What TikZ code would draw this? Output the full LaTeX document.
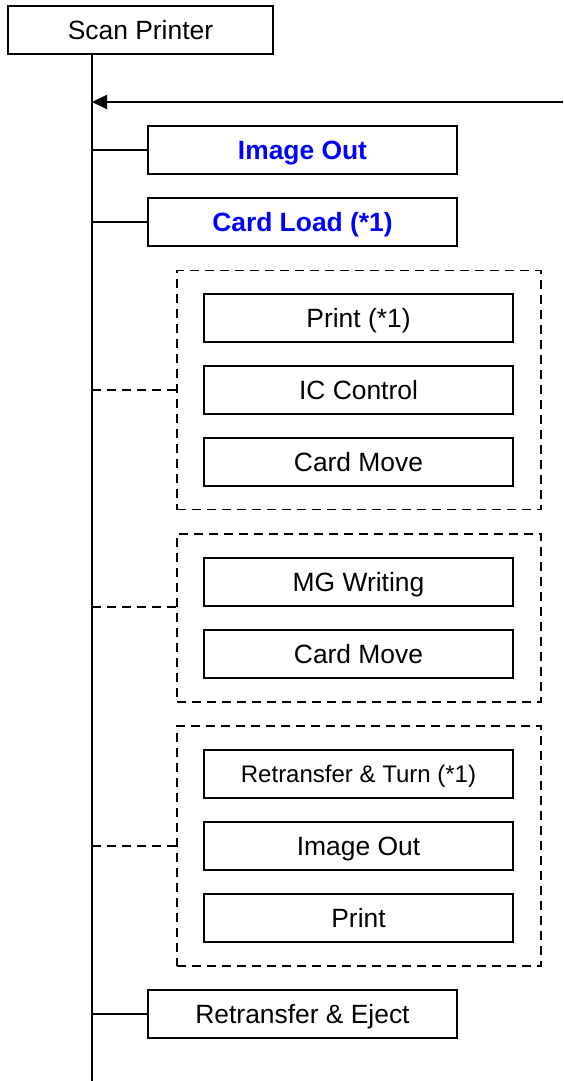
\documentclass[tikz,border=0pt]{standalone}
\usepackage{fontspec}
\setmainfont{Liberation Sans}
\usetikzlibrary{arrows.meta}
\tikzset{
	box/.style={draw,line width=1.8pt,minimum width=309pt,minimum height=48pt,inner sep=0pt,
		text height=19pt,text depth=0pt,font=\fontsize{26.4}{30}\selectfont},
	hotbox/.style={box,text=blue,font=\fontsize{26.4}{30}\selectfont\bfseries},
	groupbox/.style={draw,line width=1.8pt,dash pattern=on 9pt off 6pt,minimum width=364pt,inner sep=0pt},
	link/.style={line width=1.8pt},
	dashlink/.style={line width=1.8pt,dash pattern=on 9pt off 6pt}
}
\begin{document}
\begin{tikzpicture}[x=1pt,y=-1pt]
	\useasboundingbox (0,0) rectangle (563,1081);
	\node[box,minimum width=265pt] (scan) at (140.5,30) {Scan Printer};
	\coordinate (trunktop) at (92,54);
	\coordinate (trunkend) at (92,1081);
	\draw[link] (trunktop) -- (trunkend);
	% loop back
	\coordinate (loopin) at (563,102);
	\draw[link,-{Triangle[length=15pt,width=14pt]}] (loopin) -- (loopin -| trunktop);
	% single steps
	\node[hotbox] (imgout) at (302.5,150) {Image Out};
	\node[hotbox] (cardload) at (302.5,222) {Card Load (*1)};
	\draw[link] (imgout.west -| trunktop) -- (imgout.west);
	\draw[link] (cardload.west -| trunktop) -- (cardload.west);
	% first group
	\node[groupbox,minimum height=239pt] (grpA) at (359,390) {};
	\node[box] (printA) at (358.5,318) {Print (*1)};
	\node[box] (icctl) at (358.5,390) {IC Control};
	\node[box] (moveA) at (358.5,462) {Card Move};
	\draw[dashlink] (grpA.west -| trunktop) -- (grpA.west);
	% second group
	\node[groupbox,minimum height=168pt] (grpB) at (359,618) {};
	\node[box] (mgw) at (358.5,582) {MG Writing};
	\node[box] (moveB) at (358.5,654) {Card Move};
	\draw[dashlink] (mgw.south -| trunktop) -- (mgw.south -| grpB.west);
	% third group
	\node[groupbox,minimum height=240pt] (grpC) at (359,846) {};
	\node[box,text height=17.3pt,font=\fontsize{24}{28}\selectfont] (turn) at (358.5,774) {Retransfer \& Turn (*1)};
	\node[box] (imgoutC) at (358.5,846) {Image Out};
	\node[box] (printC) at (358.5,918) {Print};
	\draw[dashlink] (grpC.west -| trunktop) -- (grpC.west);
	% last step
	\node[box] (eject) at (302.5,1014) {Retransfer \& Eject};
	\draw[link] (eject.west -| trunktop) -- (eject.west);
\end{tikzpicture}
\end{document}
